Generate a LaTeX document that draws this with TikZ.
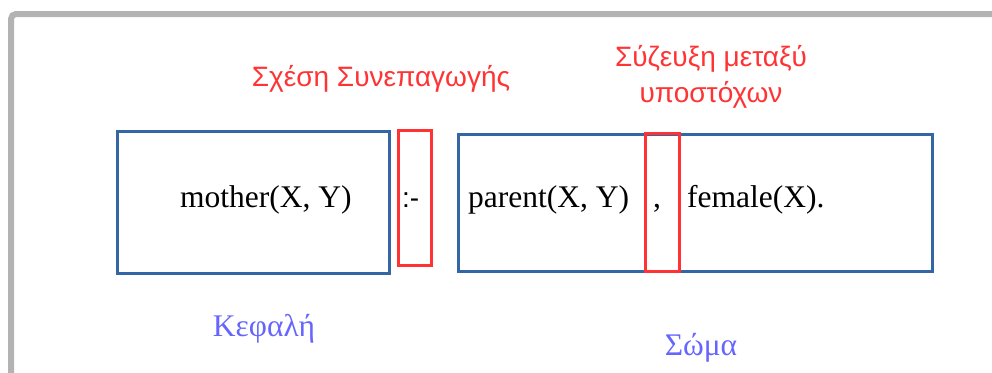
\documentclass[tikz,border=0pt]{standalone}
\usepackage{fontspec}
\setmainfont{Liberation Serif}
\setsansfont{Liberation Sans}
\usepackage{xcolor}
\definecolor{boxblue}{HTML}{3465A4}
\definecolor{linered}{HTML}{FF3333}
\definecolor{headblue}{HTML}{6666FF}
\definecolor{framegray}{HTML}{B3B3B3}

\begin{document}
\begin{tikzpicture}[x=1pt, y=-1pt,
  partbox/.style={rectangle, draw=boxblue, line width=3pt, inner sep=0pt},
  signbox/.style={rectangle, draw=linered, line width=3pt, inner sep=0pt},
  term/.style={anchor=base west, inner sep=0pt, font=\fontsize{31.5}{36}\selectfont},
  redlabel/.style={text=linered, align=center, inner sep=0pt, font=\sffamily\fontsize{28}{36}\selectfont},
  bluelabel/.style={text=headblue, anchor=base, inner sep=0pt, font=\fontsize{31.5}{36}\selectfont}]
\clip (0,0) rectangle (992,372);
\draw[framegray, line width=6pt, rounded corners=5pt] (11,14) rectangle (1100,500);

\node[partbox, minimum width=272pt, minimum height=142pt] (head) at (253,202) {};
\node[signbox, minimum width=33pt, minimum height=135pt] (neck) at (414.5,197.5) {};
\node[partbox, minimum width=474pt, minimum height=137pt] (body) at (695,202.5) {};
\node[signbox, minimum width=34pt, minimum height=138pt] (comma) at (662,202) {};

\node[term] (mother) at (180,207) {mother(X, Y)};
\node[term, font=\sffamily\fontsize{28}{36}\selectfont] (implies) at (402,207) {:-};
\node[term] (parent) at (468,207) {parent(X, Y)};
\node[term] (sep) at (653,207) {,};
\node[term] (female) at (687,207) {female(X).};

\node[redlabel, anchor=base] (implname) at (381,86) {Σχέση Συνεπαγωγής};
\node[redlabel, anchor=north] (conjname) at (711,45) {Σύζευξη μεταξύ\\υποστόχων};

\node[bluelabel] (headname) at (264,336) {Κεφαλή};
\node[bluelabel] (bodyname) at (701,355) {Σώμα};
\end{tikzpicture}
\end{document}
